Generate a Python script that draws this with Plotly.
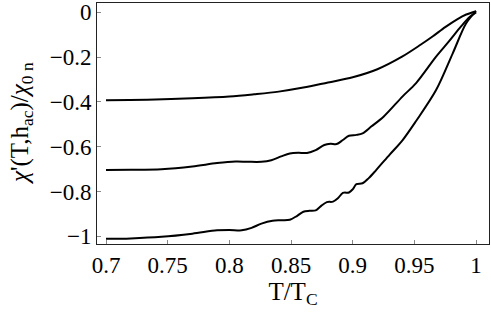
import plotly.graph_objects as go

# Curve data
t_top = [0.70, 0.74, 0.77, 0.80, 0.82, 0.84, 0.86, 0.88, 0.90, 0.92, 0.94, 0.955, 0.965, 0.975, 0.985, 0.992, 1.0]
chi_top = [-0.392, -0.389, -0.384, -0.376, -0.366, -0.354, -0.336, -0.313, -0.290, -0.254, -0.198, -0.145, -0.107, -0.066, -0.030, -0.010, 0.005]

t_mid = [0.70, 0.72, 0.745, 0.77, 0.79, 0.805, 0.815, 0.826, 0.834, 0.842, 0.849, 0.856, 0.863, 0.870,
         0.877, 0.882, 0.887, 0.892, 0.897, 0.903, 0.908, 0.915, 0.925, 0.9405, 0.9514, 0.9676, 0.978, 0.988, 0.995, 1.0]
chi_mid = [-0.704, -0.703, -0.700, -0.688, -0.673, -0.666, -0.667, -0.667, -0.660, -0.643, -0.630, -0.627, -0.628, -0.615,
           -0.592, -0.587, -0.588, -0.570, -0.551, -0.547, -0.540, -0.510, -0.466, -0.375, -0.316, -0.198, -0.130, -0.062, -0.020, 0.0]

t_bot = [0.70, 0.72, 0.745, 0.77, 0.79, 0.80, 0.81, 0.818, 0.826, 0.835, 0.842, 0.849, 0.855, 0.860, 0.865, 0.870,
         0.874, 0.879, 0.884, 0.888, 0.892, 0.897, 0.900, 0.903, 0.908, 0.913, 0.919, 0.93, 0.9405, 0.9514, 0.9676,
         0.9811, 0.992, 1.0]
chi_bot = [-1.011, -1.009, -1.002, -0.988, -0.973, -0.971, -0.973, -0.962, -0.943, -0.930, -0.928, -0.926, -0.908, -0.890,
           -0.886, -0.884, -0.866, -0.847, -0.845, -0.830, -0.806, -0.804, -0.790, -0.767, -0.763, -0.740, -0.704, -0.635,
           -0.570, -0.485, -0.347, -0.183, -0.049, 0.005]

x_tickvals = [0.7, 0.75, 0.8, 0.85, 0.9, 0.95, 1.0]
x_ticktext = ["0.7", "0.75", "0.8", "0.85", "0.9", "0.95", "1"]
y_tickvals = [0, -0.2, -0.4, -0.6, -0.8, -1.0]
y_ticktext = ["0", "\u22120.2", "\u22120.4", "\u22120.6", "\u22120.8", "\u22121"]

x_title = "T/T<sub>C</sub>"
y_title = "<i>\u03c7</i>'(T,h<sub>ac</sub>)/<i>\u03c7</i><sub>0 n</sub>"

fig = go.Figure()
for t, c in [(t_top, chi_top), (t_mid, chi_mid), (t_bot, chi_bot)]:
    fig.add_trace(go.Scatter(x=t, y=c, mode="lines", line=dict(color="black", width=2, shape="spline", smoothing=0.9),
                             showlegend=False, hoverinfo="skip"))

font_family = "Liberation Serif"
fig.update_layout(
    width=491, height=312,
    margin=dict(l=97, r=2, t=3, b=68, autoexpand=False),
    paper_bgcolor="white", plot_bgcolor="white",
    font=dict(family=font_family, color="black", size=23),
)
fig.update_xaxes(
    range=[0.6927, 1.0105], tickvals=x_tickvals, ticktext=x_ticktext,
    ticks="inside", ticklen=4, tickcolor="#888888", tickwidth=1,
    showline=True, linecolor="#222222", linewidth=1, mirror=True,
    showgrid=False, zeroline=False, automargin=False,
    tickfont=dict(size=23, family=font_family),
    ticklabelstandoff=0,
    title=dict(text=x_title, font=dict(size=25, family=font_family), standoff=0),
)
fig.update_yaxes(
    range=[-1.034, 0.0415], tickvals=y_tickvals, ticktext=y_ticktext,
    ticks="inside", ticklen=4, tickcolor="#888888", tickwidth=1,
    showline=True, linecolor="#222222", linewidth=1, mirror=True,
    showgrid=False, zeroline=False, automargin=False,
    tickfont=dict(size=23, family=font_family),
    ticklabelstandoff=0,
)
fig.add_annotation(
    text=y_title, textangle=-90, xref="paper", yref="paper",
    x=(21.5 - 97) / 392, y=0.5, xanchor="center", yanchor="middle",
    showarrow=False, font=dict(size=25, family=font_family, color="black"),
)

fig.write_html("out.html", config={"displayModeBar": False},
               post_script="document.body.style.margin='0';document.body.style.padding='0';")
